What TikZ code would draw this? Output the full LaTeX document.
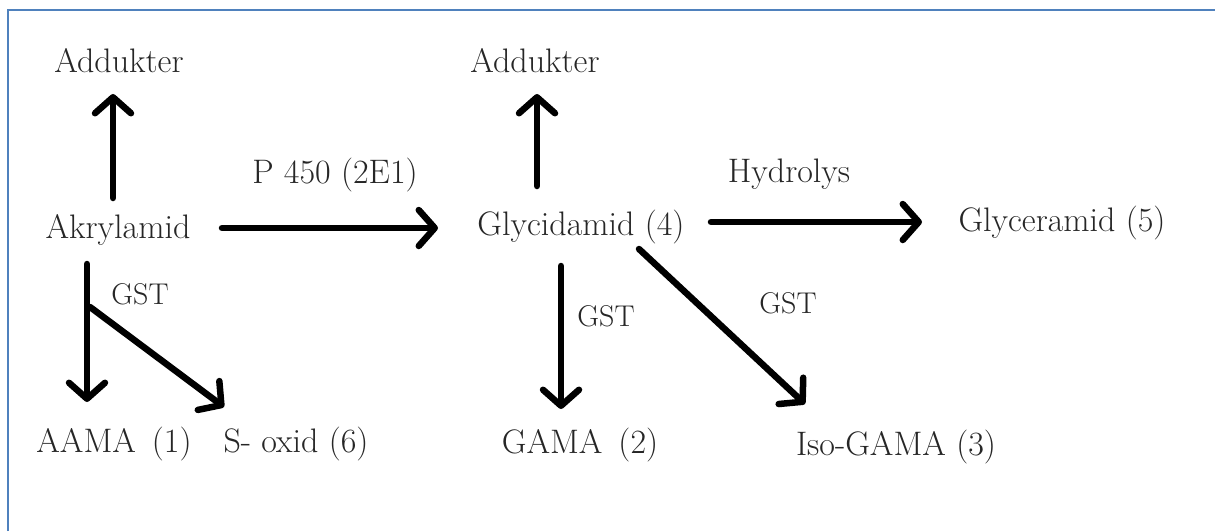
\documentclass[tikz,border=0pt]{standalone}
\usetikzlibrary{arrows.meta}
\definecolor{frameblue}{RGB}{79,129,189}
\begin{document}
\begin{tikzpicture}[x=1pt,y=-1pt,
  lbl/.style={anchor=base,inner sep=0pt,text=black!85,font=\fontsize{34}{40}\selectfont},
  gst/.style={anchor=base,inner sep=0pt,text=black!85,font=\fontsize{30}{35}\selectfont},
  arr/.style={line width=6.5pt,line cap=round,
    -{Straight Barb[length=16pt,width=36pt,line cap=round,line join=round]}},
  frame/.style={draw=frameblue,line width=2pt}]
\useasboundingbox (0,0) rectangle (1215,531);
\draw[frame] (8,531) -- (8,10) -- (1215,10);
% nodes
\node[lbl] (add1) at (119,72) {Addukter};
\node[lbl] (akryl) at (118,238) {Akrylamid};
\node[lbl] (p450) at (335,183) {P 450 (2E1)};
\node[lbl] (add2) at (535,72) {Addukter};
\node[lbl] (glyc) at (581,235) {Glycidamid (4)};
\node[lbl] (hydr) at (789,182) {Hydrolys};
\node[lbl] (glyce) at (1062,231) {Glyceramid (5)};
\node[lbl] (aama) at (114,452) {AAMA\, (1)};
\node[lbl] (soxid) at (296,452) {S- oxid (6)};
\node[lbl] (gama) at (580,453) {GAMA\, (2)};
\node[lbl] (isogama) at (896,455) {Iso-GAMA (3)};
\node[gst] (gst1) at (140,304) {GST};
\node[gst] (gst2) at (606,326) {GST};
\node[gst] (gst3) at (788,313) {GST};
% connector endpoints
\coordinate (e1s) at (113,198); \coordinate (e1e) at (113,94);
\coordinate (e2s) at (222,228); \coordinate (e2e) at (438,228);
\coordinate (e3s) at (537,186); \coordinate (e3e) at (537,94);
\coordinate (e4s) at (711,222); \coordinate (e4e) at (922,222);
\coordinate (e5s) at (87,264); \coordinate (e5e) at (87,402);
\coordinate (e6s) at (90,307); \coordinate (e6e) at (224,407);
\coordinate (e7s) at (561,266); \coordinate (e7e) at (561,409);
\coordinate (e8s) at (639,249); \coordinate (e8e) at (805,404);
% connectors
\draw[arr] (e1s) -- (e1e);
\draw[arr] (e2s) -- (e2e);
\draw[arr] (e3s) -- (e3e);
\draw[arr] (e4s) -- (e4e);
\draw[arr] (e5s) -- (e5e);
\draw[arr] (e6s) -- (e6e);
\draw[arr] (e7s) -- (e7e);
\draw[arr] (e8s) -- (e8e);
\end{tikzpicture}
\end{document}
